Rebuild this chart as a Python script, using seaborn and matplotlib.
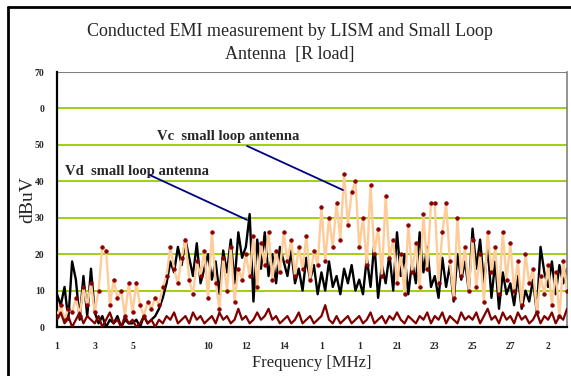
import numpy as np
import pandas as pd
import matplotlib
matplotlib.use('Agg')
import matplotlib.pyplot as plt
from matplotlib.lines import Line2D
import seaborn as sns

# Vd small loop antenna (black)
vd = [9, 6, 11, 2, 18, 13, 2, 14, 3, 16,
      4, 1, 3, 0, 2, 1, 3, 0, 2, 1,
      1, 2, 0, 3, 1, 2, 3, 5, 8, 12,
      18, 15, 22, 17, 24, 19, 14, 23, 12, 16,
      20, 13, 18, 9, 21, 15, 24, 12, 26, 19,
      22, 31, 7, 24, 16, 26, 14, 20, 12, 22,
      18, 14, 21, 12, 16, 10, 19, 13, 17, 9,
      15, 10, 18, 11, 14, 9, 16, 12, 17, 10,
      13, 9, 19, 11, 23, 8, 17, 12, 20, 10,
      26, 14, 20, 9, 18, 12, 26, 15, 22, 11,
      14, 8, 19, 11, 17, 7, 20, 13, 18, 10,
      27, 16, 24, 12, 22, 8, 18, 5, 15, 9,
      12, 6, 14, 5, 10, 7, 13, 4, 22, 15,
      11, 18, 9, 17, 12, 16]

# Vc small loop antenna (peach line, dark red markers)
vc = [3, 6, 2, 5, 4, 8, 3, 11, 6, 12,
      4, 10, 22, 21, 6, 13, 8, 10, 3, 12,
      4, 12, 6, 3, 7, 5, 8, 6, 11, 14,
      22, 16, 12, 19, 24, 13, 9, 18, 14, 21,
      8, 26, 12, 5, 19, 10, 22, 7, 16, 13,
      20, 14, 25, 11, 23, 17, 26, 13, 21, 15,
      26, 18, 24, 14, 22, 16, 25, 13, 21, 17,
      33, 18, 30, 22, 34, 24, 42, 28, 37, 40,
      22, 30, 17, 39, 20, 27, 14, 36, 19, 24,
      12, 20, 9, 28, 15, 23, 11, 31, 16, 34,
      34, 12, 26, 34, 18, 8, 30, 14, 22, 10,
      24, 11, 20, 7, 26, 15, 22, 9, 26, 13,
      23, 10, 18, 6, 20, 12, 16, 4, 14, 9,
      17, 6, 15, 3, 18, 10]

# LISM (dark red)
lism = [2, 4, 1, 3, 0, 2, 4, 1, 3, 2,
        1, 3, 0, 2, 4, 1, 2, 0, 3, 1,
        2, 0, 1, 3, 1, 2, 0, 2, 1, 3,
        2, 4, 1, 2, 3, 1, 4, 2, 3, 1,
        2, 3, 1, 4, 2, 3, 1, 2, 5, 2,
        3, 1, 2, 4, 2, 3, 5, 2, 3, 1,
        2, 3, 1, 2, 4, 1, 2, 3, 1, 2,
        3, 6, 2, 1, 3, 1, 2, 3, 1, 2,
        3, 1, 2, 4, 1, 2, 3, 1, 3, 2,
        4, 2, 1, 3, 2, 1, 3, 2, 4, 1,
        3, 2, 4, 1, 3, 2, 1, 4, 2, 3,
        2, 4, 1, 3, 5, 2, 3, 1, 4, 2,
        3, 1, 4, 2, 3, 1, 2, 4, 1, 3,
        2, 4, 1, 3, 2, 5]

x_tick_pos = [0, 10, 20, 40, 50, 60, 70, 80, 90, 100, 110, 120, 130]
x_tick_labels = ['1', '3', '5', '10', '12', '14', '1', '1', '21', '23', '25', '27', '2']
y_tick_pos = [0, 10, 20, 30, 40, 50, 60, 70]
y_tick_labels = ['0', '10', '20', '30', '40', '50', '0', '70']

df = pd.DataFrame({'idx': np.arange(len(vd)), 'vd': vd, 'vc': vc, 'lism': lism})

sns.set_style('white')
plt.rcParams['font.family'] = ['Liberation Serif', 'DejaVu Serif']

fig = plt.figure(figsize=(5.71, 3.76), dpi=100)
ax = fig.add_axes([0.0998, 0.1303, 0.8932, 0.6782])

# gridlines
for yv in y_tick_pos[1:-1]:
    ax.axhline(yv, color='#99CC00', lw=1.3, zorder=0)
ax.axhline(70, color='#808080', lw=1.5, zorder=0)

sns.lineplot(data=df, x='idx', y='vd', color='black', lw=1.7, ax=ax, zorder=2)
sns.lineplot(data=df, x='idx', y='vc', color='#FFCC99', lw=1.7, marker='o', markersize=2.4,
             markerfacecolor='#8B0000', markeredgecolor='#8B0000', ax=ax, zorder=3)
sns.lineplot(data=df, x='idx', y='lism', color='#800000', lw=1.6, ax=ax, zorder=4)

ax.set_xlim(0, 135)
ax.set_ylim(0, 70)
ax.set_xticks(x_tick_pos)
ax.set_xticklabels(x_tick_labels, fontsize=7, fontweight='bold')
ax.set_yticks(y_tick_pos)
ax.set_yticklabels(y_tick_labels, fontsize=7, fontweight='bold')
ax.tick_params(axis='both', direction='out', length=3, width=1, color='black', pad=6)
ax.tick_params(axis='x', pad=8)

for s in ['left', 'bottom']:
    ax.spines[s].set_color('black')
    ax.spines[s].set_linewidth(1.6)
ax.spines['right'].set_color('#808080')
ax.spines['right'].set_linewidth(1.2)
ax.spines['top'].set_visible(False)

ax.set_xlabel('Frequency [MHz]', fontsize=12, labelpad=3)
ax.set_ylabel('dBuV', fontsize=14, labelpad=-1)
fig.text(0.508, 0.885, 'Conducted EMI measurement by LISM and Small Loop\nAntenna  [R load]',
         ha='center', va='center', fontsize=13, linespacing=1.45)

# callouts
ax.text(26.5, 52.3, 'Vc  small loop antenna', fontsize=10.5, fontweight='bold', va='center')
ax.plot([50.3, 75.7], [49.7, 37.6], color='#000080', lw=1.3, zorder=5)
ax.text(2.1, 42.6, 'Vd  small loop antenna', fontsize=10.5, fontweight='bold', va='center')
ax.plot([24.6, 50.3], [41.7, 29.4], color='#000080', lw=1.3, zorder=5)

# outer chart frame (left and top edges visible)
fig.add_artist(Line2D([8 / 571, 8 / 571], [0, 1 - 7 / 376], transform=fig.transFigure, color='black', lw=2))
fig.add_artist(Line2D([8 / 571, 1], [1 - 7 / 376, 1 - 7 / 376], transform=fig.transFigure, color='black', lw=2))

fig.savefig('out.png', dpi=100)
